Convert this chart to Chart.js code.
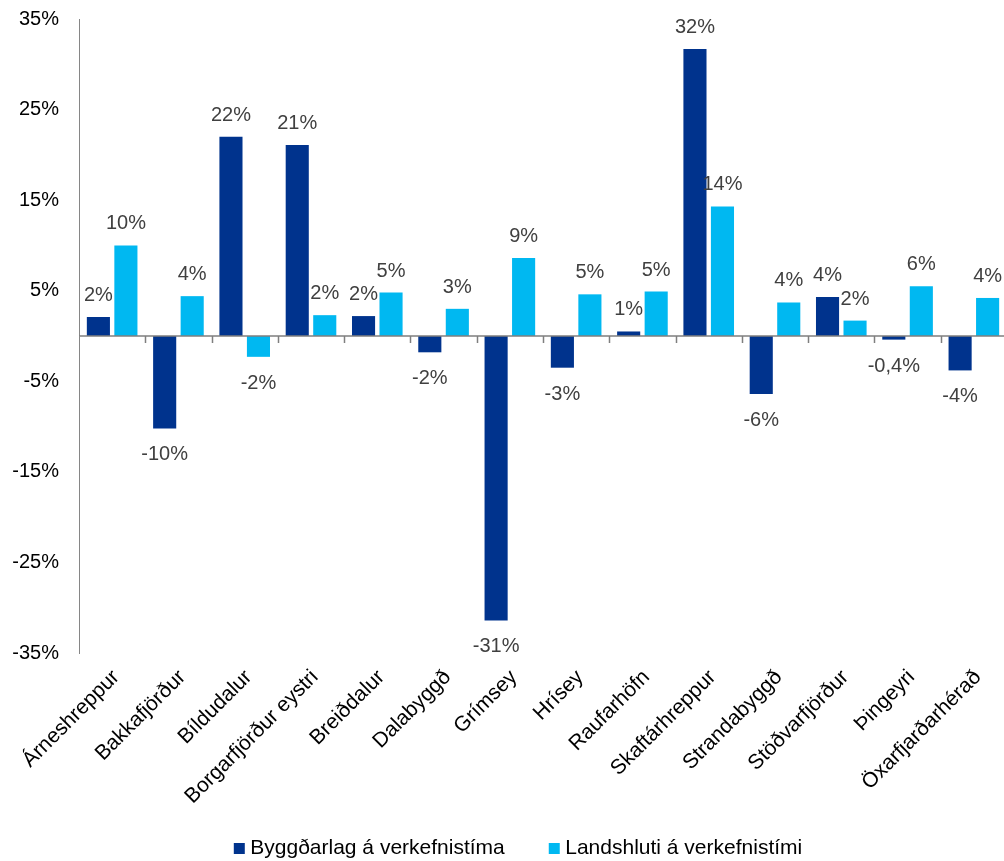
<!DOCTYPE html>
<html>
<head>
<meta charset="utf-8">
<script src="https://cdn.jsdelivr.net/npm/chart.js@4.4.1/dist/chart.umd.min.js"></script>
<style>
  html, body { margin: 0; padding: 0; overflow: hidden; background: #fff; }
  #wrap { width: 1007px; height: 874px; margin-top: -13px; }
</style>
</head>
<body>
<div id="wrap"><canvas id="chart"></canvas></div>
<script>
const places = ["Árneshreppur", "Bakkafjörður", "Bíldudalur", "Borgarfjörður eystri", "Breiðdalur",
  "Dalabyggð", "Grímsey", "Hrísey", "Raufarhöfn", "Skaftárhreppur", "Strandabyggð",
  "Stöðvarfjörður", "Þingeyri", "Öxarfjarðarhérað"];
const byggdarlag = [2.1, -10.2, 22.0, 21.1, 2.2, -1.8, -31.4, -3.5, 0.5, 31.7, -6.4, 4.3, -0.4, -3.8];
const landshluti = [10.0, 4.4, -2.3, 2.3, 4.8, 3.0, 8.6, 4.6, 4.9, 14.3, 3.7, 1.7, 5.5, 4.2];
const yTicks = [-35, -25, -15, -5, 5, 15, 25, 35];

const fontFamily = "Arial, 'Liberation Sans', sans-serif";

// tala -> texti, t.d. -0,4% eða 22%
function pct(v) {
  const r = Math.round(v);
  if (r === 0) return v.toFixed(1).replace(".", ",") + "%";
  return r + "%";
}

const extras = {
  id: "extras",
  afterLayout(chart) {
    // x-ásinn fær meira pláss fyrir skáletraða merkimiða, skýringin færð til
    chart.scales.x.bottom = chart.scales.x.top + 175;
    chart.legend.left += 34;
    chart.legend.top += 8;
  },
  afterDatasetsDraw(chart) {
    const ctx = chart.ctx;
    const x = chart.scales.x;
    const y = chart.scales.y;
    const zero = y.getPixelForValue(0);
    ctx.save();
    // núlllína og merki á milli flokka
    ctx.strokeStyle = "#7f7f7f";
    ctx.lineWidth = 1.5;
    ctx.beginPath();
    ctx.moveTo(chart.chartArea.left, zero);
    ctx.lineTo(chart.chartArea.right, zero);
    const step = (x.getPixelForValue(1) - x.getPixelForValue(0));
    for (let i = 1; i < places.length + 1; i++) {
      const px = Math.round(x.getPixelForValue(i) - step / 2) + 0.5;
      ctx.moveTo(px, zero);
      ctx.lineTo(px, zero + 7);
    }
    ctx.stroke();

    // gildismerki
    ctx.fillStyle = "#404040";
    ctx.font = "20px " + fontFamily;
    ctx.textAlign = "center";
    ctx.textBaseline = "alphabetic";
    chart.data.datasets.forEach((ds, di) => {
      const meta = chart.getDatasetMeta(di);
      meta.data.forEach((bar, i) => {
        const v = ds.data[i];
        const yy = v >= 0 ? bar.y - 16 : bar.y + 32;
        ctx.fillText(pct(v), bar.x, yy);
      });
    });
    ctx.restore();
  }
};

new Chart(document.getElementById("chart"), {
  type: "bar",
  data: {
    labels: places,
    datasets: [
      { label: "Byggðarlag á verkefnistíma", data: byggdarlag, backgroundColor: "#00338D" },
      { label: "Landshluti á verkefnistími", data: landshluti, backgroundColor: "#00B8F1" }
    ]
  },
  options: {
    responsive: true,
    maintainAspectRatio: false,
    animation: false,
    categoryPercentage: 0.83,
    barPercentage: 0.84,
    layout: { padding: { left: 0, top: 5, right: 0, bottom: 0 } },
    plugins: {
      tooltip: { enabled: false },
      legend: {
        position: "bottom",
        labels: {
          usePointStyle: true,
          pointStyle: "rect",
          boxWidth: 1,
          boxHeight: 11,
          padding: 49,
          color: "#000",
          font: { family: fontFamily, size: 21 }
        }
      }
    },
    scales: {
      x: {
        grid: { display: false, drawTicks: false },
        border: { display: false },
        ticks: {
          autoSkip: false,
          minRotation: 45,
          maxRotation: 45,
          padding: 12,
          labelOffset: 4,
          color: "#000",
          font: { family: fontFamily, size: 21 }
        },
        afterFit(scale) { scale.height = 128; }
      },
      y: {
        min: -35,
        max: 35,
        afterBuildTicks(scale) { scale.ticks = yTicks.map(v => ({ value: v })); },
        grid: { display: false, drawTicks: false },
        border: { display: true, color: "#868686", width: 1 },
        ticks: {
          padding: 20,
          color: "#000",
          font: { family: fontFamily, size: 20 },
          callback: v => v + "%"
        },
        afterFit(scale) { scale.width = 79; }
      }
    }
  },
  plugins: [extras]
});
</script>
</body>
</html>
